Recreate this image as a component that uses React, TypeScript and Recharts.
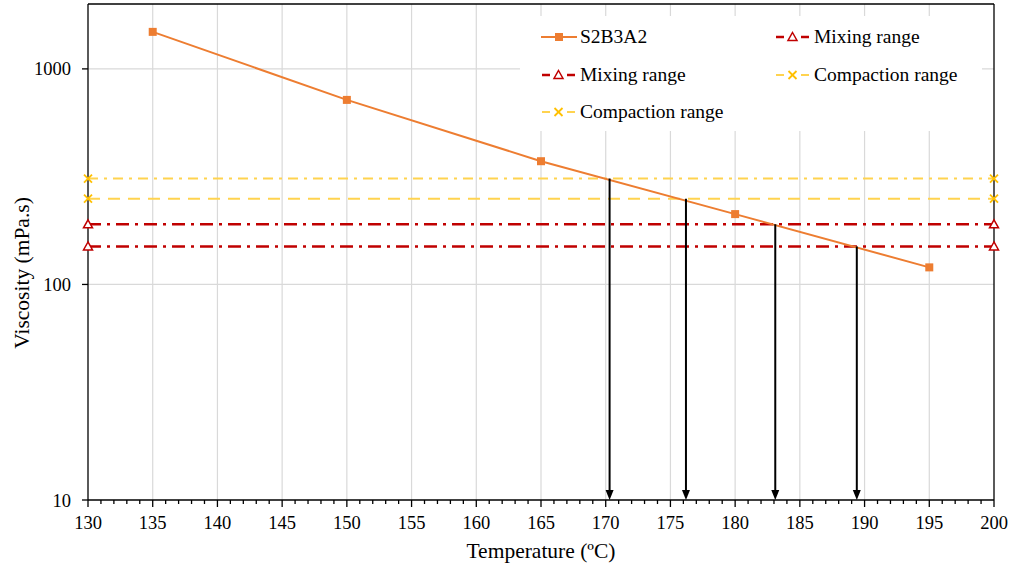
import { LineChart, Line, XAxis, YAxis, ReferenceLine, Legend } from "recharts";

// Viscosity of the S2B3A2 binder vs temperature
const temperatures = [135, 150, 165, 180, 195];
const viscosity = [1485, 718, 373, 212, 120];

// Horizontal limit lines run across the whole temperature axis
const rangeEnds = [130, 200];
const mixingLimits = [190, 150];
const compactionLimits = [310, 250];

// Arrows dropped from each limit crossing down to the axis
const arrowTemps = [170.3, 176.2, 183.1, 189.4];
const arrowTops = [310, 250, 190, 150];

const xMajorTicks = [130, 135, 140, 145, 150, 155, 160, 165, 170, 175, 180, 185, 190, 195, 200];
const xMinorTicks = Array.from({ length: 71 }, (_, i) => 130 + i);
const yTicks = [10, 100, 1000];
const yDomain = [10, 2000];

const FONT = "Liberation Serif, Times New Roman, Times, serif";
const ORANGE = "#ED7D31";
const RED = "#C00000";
const YELLOW = "#FFC000";
const YELLOW_LINE = "#FFD34F";
const GRID = "#D9D9D9";

const mainData = temperatures.map((t, i) => ({ x: t, y: viscosity[i] }));
const flatLine = (v: number) => rangeEnds.map((x) => ({ x, y: v }));

const seriesList = [
  { key: "s2b3a2", name: "S2B3A2", data: mainData, color: ORANGE, width: 2, dash: undefined, marker: "square" },
  { key: "mix1", name: "Mixing range", data: flatLine(mixingLimits[0]), color: RED, width: 2.5, dash: "13 6 3 6", marker: "triangle" },
  { key: "mix2", name: "Mixing range", data: flatLine(mixingLimits[1]), color: RED, width: 2.5, dash: "13 6 3 6", marker: "triangle" },
  { key: "comp1", name: "Compaction range", data: flatLine(compactionLimits[0]), color: YELLOW_LINE, width: 2, dash: "10 6 3 6", marker: "cross" },
  { key: "comp2", name: "Compaction range", data: flatLine(compactionLimits[1]), color: YELLOW_LINE, width: 2, dash: "12 8", marker: "cross" },
];

const Marker = ({ type, cx, cy }: { type: string; cx: number; cy: number }) => {
  if (type === "square") {
    return <rect x={cx - 4} y={cy - 4} width={8} height={8} fill={ORANGE} />;
  }
  if (type === "triangle") {
    return (
      <polygon
        points={`${cx},${cy - 4.5} ${cx + 4.5},${cy + 3.5} ${cx - 4.5},${cy + 3.5}`}
        fill="#fff"
        stroke={RED}
        strokeWidth={1.5}
      />
    );
  }
  return (
    <g stroke={YELLOW} strokeWidth={1.8}>
      <line x1={cx - 4} y1={cy - 4} x2={cx + 4} y2={cy + 4} />
      <line x1={cx - 4} y1={cy + 4} x2={cx + 4} y2={cy - 4} />
    </g>
  );
};

const makeDot = (type: string) => (props: any) => {
  const { cx, cy, index } = props;
  if (cx == null || cy == null) return <g key={`d-${index}`} />;
  return (
    <g key={`d-${type}-${index}`}>
      <Marker type={type} cx={cx} cy={cy} />
    </g>
  );
};

const XTick = (props: any) => {
  const { x, y, payload } = props;
  const major = payload.value % 5 === 0;
  return (
    <g>
      <line x1={x} y1={y} x2={x} y2={y + (major ? 7 : 4)} stroke="#000" strokeWidth={1.3} />
      {major && (
        <text x={x} y={y + 29} textAnchor="middle" fontFamily={FONT} fontSize={18.5} fill="#000">
          {payload.value}
        </text>
      )}
    </g>
  );
};

const ArrowShape = (props: any) => {
  const { x1, y1, x2, y2 } = props;
  return (
    <g>
      <line x1={x1} y1={y1} x2={x2} y2={y2 - 8} stroke="#000" strokeWidth={2} />
      <polygon points={`${x2},${y2} ${x2 - 4},${y2 - 10} ${x2 + 4},${y2 - 10}`} fill="#000" />
    </g>
  );
};

const LegendIcon = ({ color, width, dash, marker }: any) => (
  <svg width={36} height={14} style={{ display: "block" }}>
    {dash ? (
      <>
        <line x1={1} y1={7} x2={9} y2={7} stroke={color} strokeWidth={width} />
        <line x1={26} y1={7} x2={34} y2={7} stroke={color} strokeWidth={width} />
      </>
    ) : (
      <line x1={0} y1={7} x2={36} y2={7} stroke={color} strokeWidth={width} />
    )}
    <Marker type={marker} cx={dash ? 17.5 : 18} cy={7} />
  </svg>
);

const LegendContent = () => (
  <div style={{ position: "relative", width: 462, height: 115, background: "#fff" }}>
    {seriesList.map((s, i) => (
      <div
        key={s.key}
        style={{
          position: "absolute",
          left: 21 + (i % 2) * 234,
          top: 9 + Math.floor(i / 2) * 37.5,
          height: 24,
          display: "flex",
          alignItems: "center",
          fontFamily: FONT,
          fontSize: 19.5,
          color: "#000",
          whiteSpace: "nowrap",
        }}
      >
        <LegendIcon {...s} />
        <span style={{ marginLeft: 3 }}>{s.name}</span>
      </div>
    ))}
  </div>
);

const YTitle = (props: any) => {
  const { viewBox } = props;
  const cx = 22;
  const cy = viewBox.y + viewBox.height / 2 + 21;
  return (
    <text
      x={cx}
      y={cy}
      transform={`rotate(-90, ${cx}, ${cy})`}
      textAnchor="middle"
      dominantBaseline="central"
      fontFamily={FONT}
      fontSize={21.5}
      fill="#000"
    >
      Viscosity (mPa.s)
    </text>
  );
};

const XTitle = (props: any) => {
  const { viewBox } = props;
  return (
    <text
      x={viewBox.x + viewBox.width / 2}
      y={558}
      textAnchor="middle"
      fontFamily={FONT}
      fontSize={21.5}
      fill="#000"
    >
      Temperature (ºC)
    </text>
  );
};

export default function App() {
  return (
    <div style={{ position: "absolute", left: 0, top: 0, width: 1011, height: 567, background: "#fff" }}>
      <LineChart width={1011} height={567} margin={{ top: 4, right: 17, bottom: 0, left: 0 }}>
        <XAxis
          dataKey="x"
          type="number"
          domain={[130, 200]}
          ticks={xMinorTicks}
          interval={0}
          tick={<XTick />}
          tickSize={0}
          tickMargin={0}
          tickLine={false}
          axisLine={{ stroke: "#000", strokeWidth: 1.3 }}
          height={67}
          label={<XTitle />}
        />
        <YAxis
          dataKey="y"
          type="number"
          scale="log"
          domain={yDomain}
          ticks={yTicks}
          width={88}
          tickSize={6}
          tickMargin={11}
          tick={{ fill: "#000", fontFamily: FONT, fontSize: 18.5 }}
          tickLine={{ stroke: "#000", strokeWidth: 1.3 }}
          axisLine={{ stroke: "#000", strokeWidth: 1.3 }}
          label={<YTitle />}
        />
        {xMajorTicks.slice(1, -1).map((t) => (
          <ReferenceLine key={`gx-${t}`} x={t} stroke={GRID} strokeWidth={1.2} />
        ))}
        {yTicks.slice(1).map((t) => (
          <ReferenceLine key={`gy-${t}`} y={t} stroke={GRID} strokeWidth={1.2} />
        ))}
        <ReferenceLine x={200} stroke="#000" strokeWidth={1.3} />
        <ReferenceLine y={yDomain[1]} stroke="#000" strokeWidth={1.3} />
        <Legend
          layout="vertical"
          verticalAlign="middle"
          align="center"
          content={<LegendContent />}
          wrapperStyle={{ left: 520, top: 16, width: 462, height: 115 }}
        />
        {seriesList
          .slice()
          .reverse()
          .map((s) => (
            <Line
              key={s.key}
              data={s.data}
              dataKey="y"
              name={s.name}
              stroke={s.color}
              strokeWidth={s.width}
              strokeDasharray={s.dash}
              dot={makeDot(s.marker)}
              activeDot={false}
              isAnimationActive={false}
            />
          ))}
        {arrowTemps.map((t, i) => (
          <ReferenceLine
            key={`arrow-${t}`}
            segment={[
              { x: t, y: arrowTops[i] },
              { x: t, y: yDomain[0] },
            ]}
            shape={ArrowShape}
          />
        ))}
      </LineChart>
    </div>
  );
}
